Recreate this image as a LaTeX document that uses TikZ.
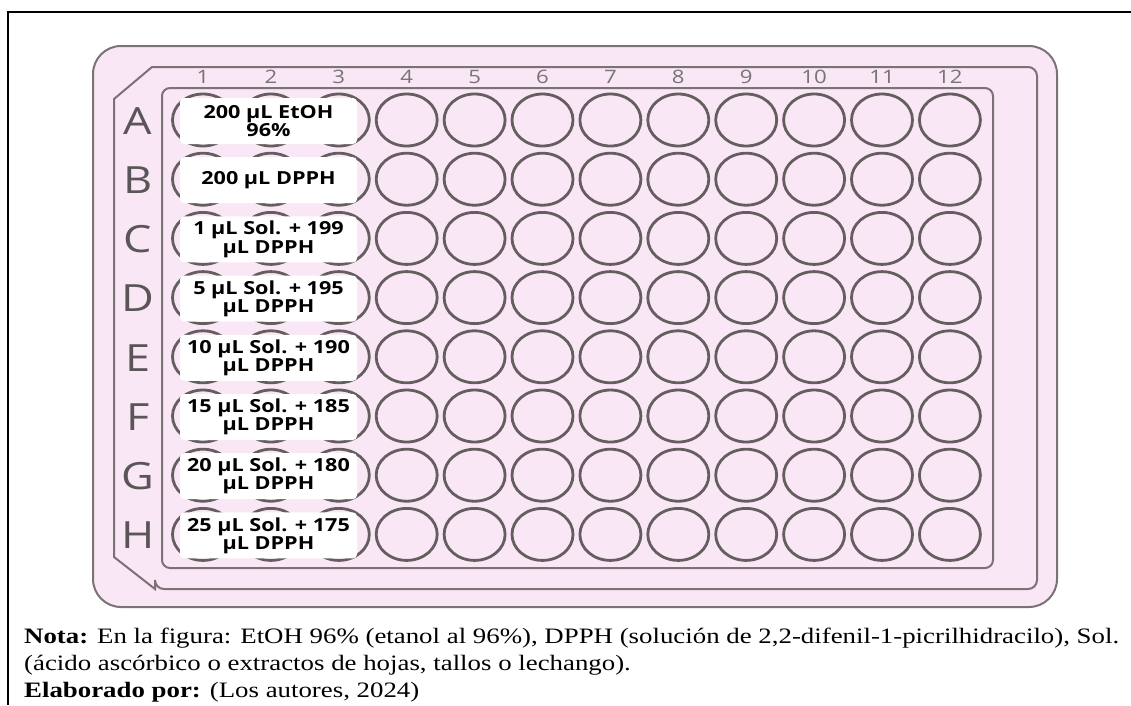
\documentclass[tikz,border=0pt]{standalone}
\usepackage{fontspec}
\setmainfont{Liberation Serif}[FakeStretch=1.22]
\newfontfamily\platefont{Open Sans}[FakeStretch=1.2]
\usetikzlibrary{shapes.geometric}
\definecolor{platepink}{RGB}{249,231,245}
\definecolor{plateline}{RGB}{122,114,116}
\definecolor{wellline}{RGB}{100,94,95}
\definecolor{labgrey}{RGB}{90,86,88}
\definecolor{numgrey}{RGB}{120,115,117}
\tikzset{
  x=1pt, y=-1pt,
  frameline/.style={line width=2.4pt, black},
  plateedge/.style={draw=plateline, line width=2pt},
  well/.style={ellipse, draw=wellline, line width=2.8pt, fill=platepink,
    minimum width=61pt, minimum height=52pt, inner sep=0pt},
  rowlab/.style={text=labgrey, font=\platefont\fontsize{37.5}{37.5}\selectfont, inner sep=0pt},
  collab/.style={text=numgrey, font=\platefont\fontsize{18.5}{18.5}\selectfont, inner sep=0pt},
  labelbox/.style={fill=white, rounded corners=4pt, minimum width=177pt, minimum height=46pt,
    inner sep=0pt, align=center, text=black,
    font=\platefont\bfseries\fontsize{18}{16.5}\selectfont},
  caption/.style={anchor=base west, inner sep=0pt, font=\fontsize{22}{25}\selectfont}
}
\begin{document}
\begin{tikzpicture}
\useasboundingbox (0,0) rectangle (1131,705);
\fill[white] (0,0) rectangle (1131,705);
% page frame
\draw[frameline] (8,705) -- (8,12) -- (1131,12);
% plate outlines
\draw[plateedge, fill=platepink, rounded corners=28pt] (93,46) rectangle (1057,607);
\draw[plateedge, rounded corners=9pt] (152,67) -- (1037,67) -- (1037,589) -- (155,589)
  [sharp corners] -- (155,589) -- (114,557) -- (114,99) -- (152,67) -- cycle;
\draw[plateedge, rounded corners=8pt] (162,88) rectangle (993,568);
% column numbers
\foreach \c in {1,...,12}{
  \node[collab] (col\c) at ({203+(\c-1)*67.9},77) {\c};
}
% rows
\foreach \r [count=\i from 0] in {A,B,C,D,E,F,G,H}{
  \node[rowlab] (row\r) at (138,{121+\i*59.2}) {\r};
  \foreach \c in {1,...,12}{
    \node[well] (w\r\c) at ({203+(\c-1)*67.9},{120+\i*59.2}) {};
  }
}
% label boxes
\node[labelbox] (labA) at (268.5,121) {200 µL EtOH\\96\%};
\node[labelbox] (labB) at (268.5,180.2) {200 µL DPPH};
\node[labelbox] (labC) at (268.5,239.4) {1 µL Sol. + 199\\µL DPPH};
\node[labelbox] (labD) at (268.5,298.6) {5 µL Sol. + 195\\µL DPPH};
\node[labelbox] (labE) at (268.5,357.8) {10 µL Sol. + 190\\µL DPPH};
\node[labelbox] (labF) at (268.5,417) {15 µL Sol. + 185\\µL DPPH};
\node[labelbox] (labG) at (268.5,476.2) {20 µL Sol. + 180\\µL DPPH};
\node[labelbox] (labH) at (268.5,535.4) {25 µL Sol. + 175\\µL DPPH};
% caption
\node[caption] (cap1) at (24,643) {\textbf{Nota:} En la figura: EtOH 96\% (etanol al 96\%), DPPH (solución de 2,2-difenil-1-picrilhidracilo), Sol.};
\node[caption] (cap2) at (24,670) {(ácido ascórbico o extractos de hojas, tallos o lechango).};
\node[caption] (cap3) at (24,697) {\textbf{Elaborado por:} (Los autores, 2024)};
\end{tikzpicture}
\end{document}
